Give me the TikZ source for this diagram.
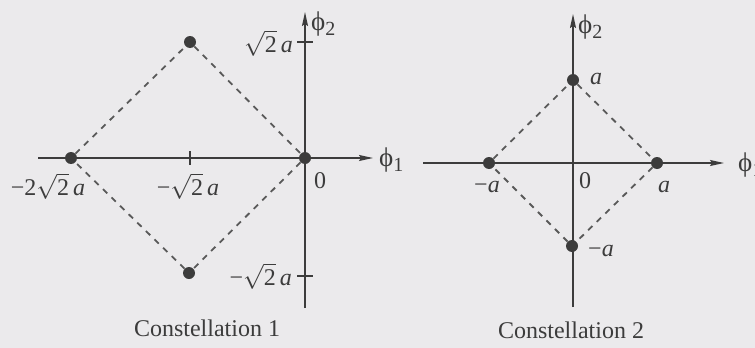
\documentclass[tikz,border=0pt]{standalone}
\usepackage{fontspec}
\setmainfont{Liberation Serif}
\usetikzlibrary{arrows.meta}
\definecolor{bgc}{HTML}{EBEAEC}
\definecolor{ink}{HTML}{3C3C3C}
\newcommand{\va}{\textit{a}}
\newcommand{\rtwo}{$\sqrt{\mbox{2}}$}
\newcommand{\mn}{−}
\newcommand{\phisub}[1]{{\fontsize{27}{28}\selectfont ϕ}\raisebox{-5pt}{\fontsize{20}{21}\selectfont #1}}
\begin{document}
\begin{tikzpicture}[x=1pt,y=-1pt,
  font=\fontsize{24}{27}\selectfont,
  axis/.style={line width=1.4pt, draw=ink, -{Stealth[length=14pt,width=6pt,inset=2pt]}},
  tick/.style={line width=1.3pt, draw=ink},
  dot/.style={circle, fill=ink, draw=none, minimum size=12pt, inner sep=0pt},
  dashline/.style={line width=1.8pt, draw=ink!85, dash pattern=on 6pt off 6pt},
  lbl/.style={text=ink, inner sep=1pt}]
\fill[bgc] (0,0) rectangle (755,348);
\useasboundingbox (0,0) rectangle (755,348);

% ---------- Constellation 1 ----------
\coordinate (h1s) at (38,158);
\coordinate (h1e) at (373,158);
\coordinate (v1s) at (305,308);
\coordinate (v1e) at (305,12);
\draw[axis] (h1s) -- (h1e);
\draw[axis] (v1s) -- (v1e);
\draw[tick] (190,151) -- (190,165);
\draw[tick] (297,42) -- (313,42);
\draw[tick] (297,276) -- (313,276);

\node[dot] (a1) at (71,158) {};
\node[dot] (b1) at (190,42) {};
\node[dot] (c1) at (305,158) {};
\node[dot] (d1) at (189,273) {};
\draw[dashline] (a1) -- (b1) -- (c1) -- (d1) -- (a1);

\node[lbl, anchor=east] (l1) at (294,43) {\rtwo\,\va};
\node[lbl, anchor=west] (l2) at (310,24) {\phisub{2}};
\node[lbl, anchor=west] (l3) at (378,160) {\phisub{1}};
\node[lbl] (l4) at (48,186) {\mn2\rtwo\,\va};
\node[lbl] (l5) at (188,186) {\mn\rtwo\,\va};
\node[lbl] (l6) at (320,181) {0};
\node[lbl, anchor=east] (l7) at (293,276) {\mn\rtwo\,\va};
\node[lbl] (cap1) at (207,328) {Constellation 1};

% ---------- Constellation 2 ----------
\coordinate (h2s) at (423,163);
\coordinate (h2e) at (724,163);
\coordinate (v2s) at (573,307);
\coordinate (v2e) at (573,14);
\draw[axis] (h2s) -- (h2e);
\draw[axis] (v2s) -- (v2e);

\node[dot] (a2) at (573,80) {};
\node[dot] (b2) at (489,163) {};
\node[dot] (c2) at (657,163) {};
\node[dot] (d2) at (572,246) {};
\draw[dashline] (a2) -- (c2) -- (d2) -- (b2) -- (a2);

\node[lbl] (m1) at (596,79) {\va};
\node[lbl, anchor=west] (m2) at (577,27) {\phisub{2}};
\node[lbl] (m3) at (487,187) {\mn\va};
\node[lbl] (m4) at (585,181) {0};
\node[lbl] (m5) at (664,187) {\va};
\node[lbl] (m6) at (601,251) {\mn\va};
\node[lbl, anchor=west] (m7) at (737,165) {\phisub{1}};
\node[lbl] (cap2) at (571,330) {Constellation 2};
\end{tikzpicture}
\end{document}
